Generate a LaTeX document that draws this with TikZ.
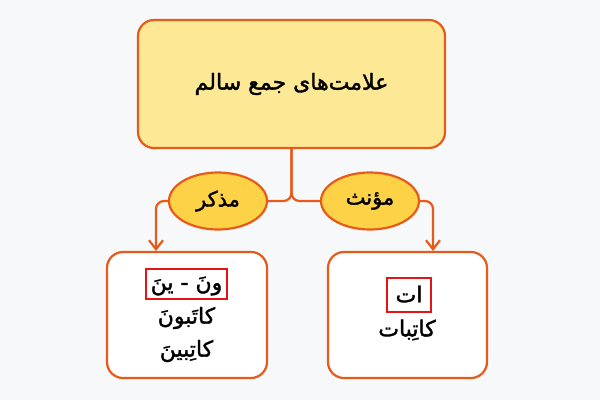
\documentclass[tikz,border=0pt]{standalone}
\usepackage{xcolor}
\usepackage{fontspec}
\usepackage{tikz}
\usetikzlibrary{positioning,calc,shapes.geometric,arrows.meta}
\TeXXeTstate=1
\newfontfamily\arabicfont[Script=Arabic,FakeBold=1.6,AutoFakeBold=1.6]{DejaVu Sans}
\definecolor{bgcol}{RGB}{247,248,250}
\definecolor{edgeorange}{RGB}{232,90,26}
\definecolor{paleyellow}{RGB}{253,232,150}
\definecolor{goldyellow}{RGB}{253,210,70}
\definecolor{markred}{RGB}{230,20,20}
\tikzset{
	bigbox/.style={draw=edgeorange, line width=2.2pt, rounded corners=16pt},
	genderoval/.style={ellipse, draw=edgeorange, line width=2.2pt, fill=goldyellow, minimum width=98pt, minimum height=57pt, inner sep=0pt, font=\arabicfont\bfseries\fontsize{21}{24}\selectfont},
	wordtxt/.style={font=\arabicfont\bfseries\fontsize{22}{26}\selectfont, inner sep=0pt},
	redmark/.style={draw=markred, line width=1.6pt},
	link/.style={draw=edgeorange, line width=2.2pt, rounded corners=8pt},
}
\begin{document}
\begin{tikzpicture}[x=1pt,y=-1pt]
							\def\Wd{600}
							\def\Ht{400}
							\fill[bgcol] (0,0) rectangle (\Wd,\Ht);
							
							% top: title box
							\node[bigbox, fill=paleyellow, minimum width=307pt, minimum height=128pt, font=\arabicfont\bfseries\fontsize{22}{26}\selectfont] (title) at (291.5,84) {\beginR علامت‌های جمع سالم\endR};
							% middle: the two ovals
							\node[genderoval] (masc) at (218,201) {\beginR مذکر\endR};
							\node[genderoval] (fem) at (370,201) {\beginR مؤنث\endR};
							% bottom: the two boxes
							\node[bigbox, fill=white, minimum width=160pt, minimum height=126pt] (mascbox) at (187,315) {};
							\node[bigbox, fill=white, minimum width=159pt, minimum height=126pt] (fembox) at (407.5,315) {};
							\coordinate (mtip) at (156,251);
							\coordinate (ftip) at (433,251);
							
							% links
							\draw[link] (title.south) |- (masc.east);
							\draw[link] (title.south) |- (fem.west);
							\draw[link, -{Straight Barb[length=9pt,width=14pt]}] (masc.west) -| (mtip);
							\draw[link, -{Straight Barb[length=9pt,width=14pt]}] (fem.east) -| (ftip);
							
							% words in the left box
							\node[wordtxt] (mend) at (186.5,286) {\beginR ونَ - ینَ\endR};
							\draw[redmark] (146,269) rectangle (227,299);
							\node[wordtxt] (mword1) at (186.5,318) {\beginR کاتَبونَ\endR};
							\node[wordtxt] (mword2) at (186.5,351) {\beginR کاتِبینَ\endR};
							% words in the right box
							\node[wordtxt] (fend) at (409,294) {\beginR ات\endR};
							\draw[redmark] (387,278) rectangle (431,312);
							\node[wordtxt] (fword) at (407,330) {\beginR کاتِبات\endR};
\end{tikzpicture}
\end{document}
